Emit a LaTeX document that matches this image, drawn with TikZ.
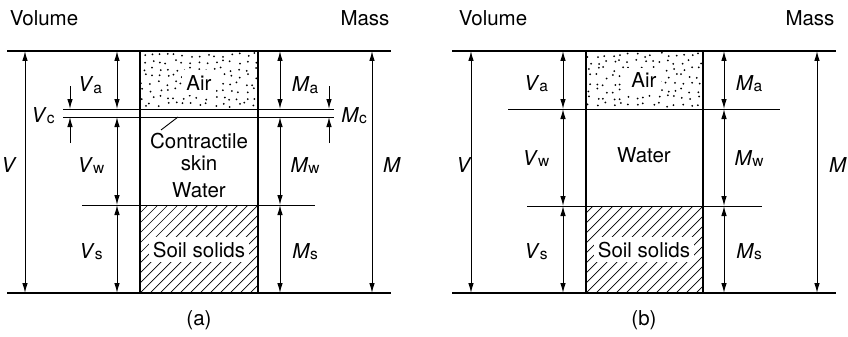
\documentclass[tikz,border=0pt]{standalone}
\usepackage{fontspec}
\setmainfont{TeX Gyre Heros}
\usetikzlibrary{arrows.meta}
\newcommand{\qlbl}[2]{\textit{#1}\raisebox{-1.5pt}{\fontsize{15.5}{15.5}\selectfont #2}}
\tikzset{
  ln/.style={line width=1.25pt},
  thin ln/.style={line width=0.95pt},
  dim/.style={line width=1pt,{Latex[length=10pt,width=5.5pt]}-{Latex[length=10pt,width=5.5pt]}},
  onedim/.style={line width=1pt,-{Latex[length=10pt,width=5.5pt]}},
  txt/.style={font=\fontsize{20.5}{23}\selectfont, inner sep=0pt},
  hatch/.style={line width=0.7pt},
  mask/.style={txt, fill=white, inner xsep=4pt, inner ysep=5pt}
}
\begin{document}
\begin{tikzpicture}[x=1pt,y=-1pt]
\useasboundingbox (0,0) rectangle (848,337);
% ================= panel (a) =================
% air dots
\begin{scope}
\clip (141,52) rectangle (257,108);
\pgfmathsetseed{11}
\foreach \r in {0,...,7}{\foreach \c in {0,...,14}{%
  \pgfmathsetmacro\px{143.5+\c*7.9+rand*2.6}%
  \pgfmathsetmacro\py{55+\r*7.1+rand*2.3}%
  \fill (\px,\py) circle (1pt);}}
\end{scope}
\node[mask, anchor=base] (airA) at (199,90) {Air};
% hatching
\begin{scope}
\clip (140,205) rectangle (258,293);
\foreach \k in {50,60,...,260}{\draw[hatch] (\k,293) -- ++(88,-88);}
\end{scope}
\node[mask, anchor=base] (soilA) at (199,257) {Soil solids};
% lines
\draw[ln] (7,51) -- (391,51);
\draw[ln] (7,293) -- (391,293);
\draw[ln] (140,51) -- (140,293);
\draw[ln] (258,51) -- (258,293);
\draw[thin ln] (63,109) -- (334,109);
\draw[thin ln] (63,117) -- (334,117);
\draw[thin ln] (82,205) -- (315,205);
% arrows
\draw[dim] (25,51) -- (25,293);
\draw[dim] (117,51) -- (117,109);
\draw[dim] (117,117) -- (117,205);
\draw[dim] (117,205) -- (117,293);
\draw[dim] (280,51) -- (280,109);
\draw[dim] (280,117) -- (280,205);
\draw[dim] (280,205) -- (280,293);
\draw[dim] (372,51) -- (372,293);
\draw[onedim] (70,86) -- (70,109);
\draw[onedim] (70,143) -- (70,117);
\draw[onedim] (329,86) -- (329,109);
\draw[onedim] (329,143) -- (329,117);
% leader
\draw[line width=0.9pt] (178,117) -- (161,130);
% labels
\node[txt, anchor=base] (volA) at (44,26) {Volume};
\node[txt, anchor=base] (massA) at (365,26) {Mass};
\node[txt, anchor=base] (VaA) at (90,92) {\qlbl{V}{a}};
\node[txt, anchor=base] (VcA) at (43,122) {\qlbl{V}{c}};
\node[txt, anchor=base] (VwA) at (91,172) {\qlbl{V}{w}};
\node[txt, anchor=base] (VsA) at (91,258) {\qlbl{V}{s}};
\node[txt, anchor=base] (VA) at (9,172) {\textit{V}};
\node[txt, anchor=base] (MaA) at (305,92) {\qlbl{M}{a}};
\node[txt, anchor=base] (McA) at (354,122) {\qlbl{M}{c}};
\node[txt, anchor=base] (MwA) at (305,172) {\qlbl{M}{w}};
\node[txt, anchor=base] (MsA) at (305,258) {\qlbl{M}{s}};
\node[txt, anchor=base] (MA) at (392,172) {\textit{M}};
\node[txt, anchor=base] (c1) at (199,148) {Contractile};
\node[txt, anchor=base] (c2) at (199,170) {skin};
\node[txt, anchor=base] (waterA) at (199,197) {Water};
\node[txt] (capA) at (199,320) {(a)};
% ================= panel (b) =================
\begin{scope}
\clip (587,52) rectangle (702,108);
\pgfmathsetseed{29}
\foreach \r in {0,...,7}{\foreach \c in {0,...,14}{%
  \pgfmathsetmacro\px{589.5+\c*7.8+rand*2.6}%
  \pgfmathsetmacro\py{55+\r*7.1+rand*2.3}%
  \fill (\px,\py) circle (1pt);}}
\end{scope}
\node[mask, anchor=base] (airB) at (644,88) {Air};
\begin{scope}
\clip (586,206) rectangle (703,293);
\foreach \k in {496,506,...,710}{\draw[hatch] (\k,293) -- ++(87,-87);}
\end{scope}
\node[mask, anchor=base] (soilB) at (644,257) {Soil solids};
\draw[ln] (452,51) -- (836,51);
\draw[ln] (452,293) -- (836,293);
\draw[ln] (586,51) -- (586,293);
\draw[ln] (703,51) -- (703,293);
\draw[thin ln] (508,109) -- (780,109);
\draw[thin ln] (527,206) -- (762,206);
\draw[dim] (471,51) -- (471,293);
\draw[dim] (563,51) -- (563,109);
\draw[dim] (563,109) -- (563,206);
\draw[dim] (563,206) -- (563,293);
\draw[dim] (724,51) -- (724,109);
\draw[dim] (724,109) -- (724,206);
\draw[dim] (724,206) -- (724,293);
\draw[dim] (817,51) -- (817,293);
\node[txt, anchor=base] (volB) at (493,26) {Volume};
\node[txt, anchor=base] (massB) at (810,26) {Mass};
\node[txt, anchor=base] (VaB) at (536,90) {\qlbl{V}{a}};
\node[txt, anchor=base] (VwB) at (536,165) {\qlbl{V}{w}};
\node[txt, anchor=base] (VsB) at (536,258) {\qlbl{V}{s}};
\node[txt, anchor=base] (VB) at (464,172) {\textit{V}};
\node[txt, anchor=base] (MaB) at (749,90) {\qlbl{M}{a}};
\node[txt, anchor=base] (MwB) at (749,165) {\qlbl{M}{w}};
\node[txt, anchor=base] (MsB) at (749,258) {\qlbl{M}{s}};
\node[txt, anchor=base] (MB) at (838,172) {\textit{M}};
\node[txt, anchor=base] (waterB) at (644,162) {Water};
\node[txt] (capB) at (644,320) {(b)};
\end{tikzpicture}
\end{document}
